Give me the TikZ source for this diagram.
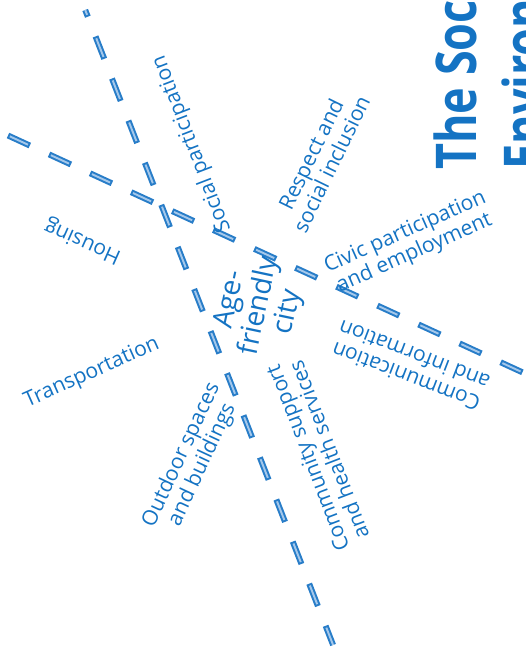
\documentclass[tikz,border=0pt]{standalone}
\usepackage{fontspec}
\setmainfont{Open Sans}
\usepackage{tikz}
\usetikzlibrary{calc}
\definecolor{afblue}{RGB}{20,115,195}
\definecolor{afdash}{RGB}{40,125,200}
\definecolor{afpale}{RGB}{165,200,235}
\tikzset{
   axis/.style={line width=3.4pt, afdash, dash pattern=on 0.48cm off 0.424cm},
   axis core/.style={line width=1.1pt, afpale, dash pattern=on 0.4cm off 0.504cm}
}

\begin{document}
\begin{tikzpicture}[x=0.02cm,y=-0.02cm,
                    topic/.style={text=afblue,align=center,inner sep=0pt,font=\fontsize{12}{13}\selectfont},
                    heading/.style={text=afblue,inner sep=0pt,anchor=base west,rotate=90,xscale=0.8,
                                    font=\fontsize{32}{38}\selectfont\bfseries}]
\clip (0,0) rectangle (526,650);
%
\coordinate (a1) at (85.2,10);
\coordinate (a2) at (333.1,645);
\coordinate (b1) at (8,135.5);
\coordinate (b2) at (525,373.5);
\draw[axis,dash phase=0.336cm]      (a1) -- (a2);
\draw[axis core,dash phase=0.296cm] (a1) -- (a2);
\draw[axis]                         (b1) -- (b2);
\draw[axis core,dash phase=0.864cm] (b1) -- (b2);
%
\node[topic,rotate=78,font=\fontsize{16}{14.5}\selectfont] (city) at (260,306) {Age-\\friendly\\city};
\node[topic,rotate=111] (social)    at ($ (city) + (-68,-162) $) {Social participation};
\node[topic,rotate=156] (housing)   at ($ (city) + (-177,-65) $) {Housing};
\node[topic,rotate=64]  (respect)   at ($ (city) + (61,-147) $)  {Respect and\\social inclusion};
\node[topic,rotate=24]  (civic)     at ($ (city) + (150,-63) $)  {Civic participation\\and employment};
\node[topic,rotate=159] (info)      at ($ (city) + (150,60) $)   {Communication\\and information};
\node[topic,rotate=111] (health)    at ($ (city) + (58,148) $)   {Community support\\and health services};
\node[topic,rotate=65]  (outdoor)   at ($ (city) + (-68,154) $)  {Outdoor spaces\\and buildings};
\node[topic,rotate=24]  (transport) at ($ (city) + (-168,67) $)  {Transportation};
%
\node[heading] (title)  at (476,170) {The Social};
\node[heading] (titleb) at (544,170) {Environment};
\end{tikzpicture}
\end{document}
